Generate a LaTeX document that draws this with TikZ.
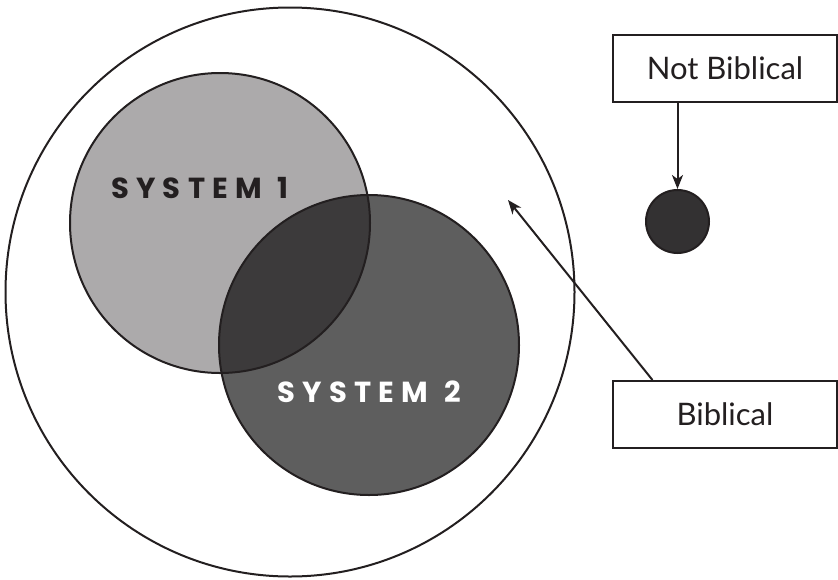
\documentclass[tikz,border=0pt]{standalone}
\usepackage{fontspec}
\setmainfont{Lato}
\newfontfamily\sysfont[LetterSpace=25]{Poppins}
\usetikzlibrary{arrows.meta,calc}
\definecolor{ink}{HTML}{231F20}
\definecolor{sysone}{HTML}{ACAAAB}
\definecolor{systwo}{HTML}{5E5E5E}
\definecolor{sysboth}{HTML}{3C3A3B}
\definecolor{dot}{HTML}{333132}
\tikzset{
  ring/.style={circle, draw=ink, line width=2pt, inner sep=0pt},
  labelbox/.style={rectangle, draw=ink, line width=2pt, fill=white, minimum width=224pt, minimum height=67pt, inner sep=0pt, text=ink, font=\fontsize{31}{33}\selectfont},
  systext/.style={font=\sysfont\bfseries\fontsize{29}{32}\selectfont, inner sep=0pt},
  pointer/.style={draw=ink, line width=2pt, -{Stealth[length=14pt,width=11pt,inset=4pt]}}
}
\begin{document}
\begin{tikzpicture}[x=1pt,y=-1pt]
\useasboundingbox (0,0) rectangle (838,579);
% outer circle
\node[ring, minimum size=569pt] (outer) at (290,292) {};
% system circles fills
\fill[sysone] (220,223) circle (150pt);
\fill[systwo] (369,345) circle (150pt);
\begin{scope}
  \clip (220,223) circle (150pt);
  \fill[sysboth] (369,345) circle (150pt);
\end{scope}
\node[ring, minimum size=300pt] (s1) at (220,223) {};
\node[ring, minimum size=300pt] (s2) at (369,345) {};
\node[systext, text=ink] (t1) at (200,188) {SYSTEM\hspace{0.55em}1};
\node[systext, text=white] (t2) at (369,392) {SYSTEM\hspace{0.55em}2};
% small dot
\node[ring, fill=dot, minimum size=63pt] (dot) at (677.5,221.5) {};
% boxes
\node[labelbox] (nb) at (725,68.5) {Not Biblical};
\node[labelbox] (bib) at (725,414.5) {Biblical};
% arrows
\coordinate (tip) at (508,200);
\draw[pointer] (nb.south -| dot.north) -- (dot.north);
\draw[pointer] ($(bib.north west)!0.179!(bib.north east)$) -- (tip);
\end{tikzpicture}
\end{document}
